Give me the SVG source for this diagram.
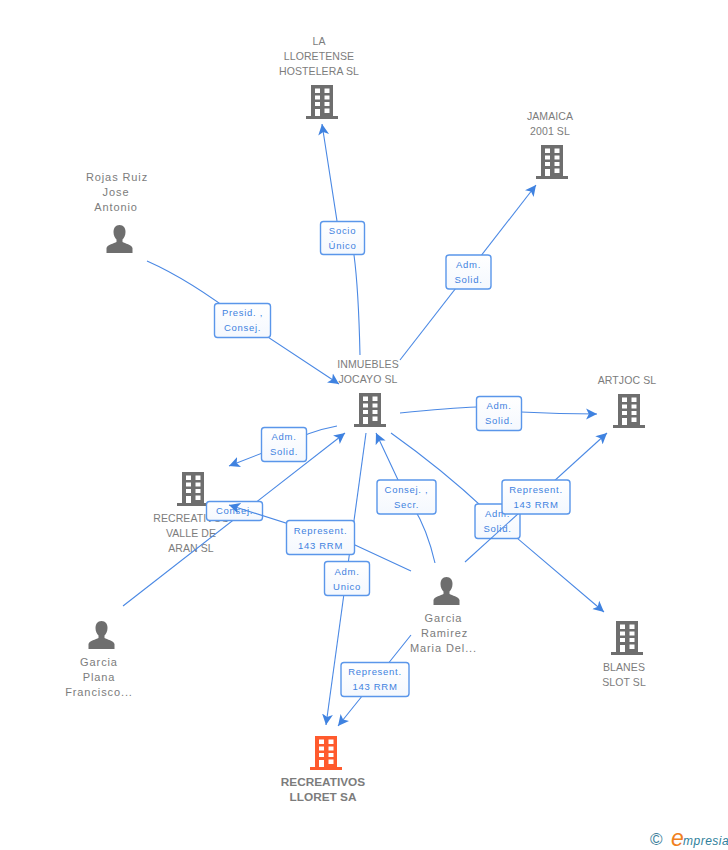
<svg xmlns="http://www.w3.org/2000/svg" width="728" height="850" viewBox="0 0 728 850">
<style>
text{font-family:"Liberation Sans",Arial,sans-serif}
.n{font-size:10.500px;fill:#7c7c7c;text-anchor:middle;letter-spacing:.1px}
.p{font-size:11px;letter-spacing:.9px}
.b{font-weight:bold;font-size:11.800px;letter-spacing:0}
.l{fill:none;stroke:#4a88e4;stroke-width:1.1}
.a{marker-end:url(#arr)}
.box{fill:url(#g);stroke:#5a96ea;stroke-width:1.4}
.t{font-size:9.500px;fill:#3f82e0;text-anchor:middle;letter-spacing:.7px}
</style>
<defs>
<marker id="arr" markerUnits="userSpaceOnUse" markerWidth="12" markerHeight="12" refX="10" refY="5" orient="auto" viewBox="0 0 11 10"><path d="M0,0L10,5L0,10L2.500,5Z" fill="#3f82e0"/></marker>
<linearGradient id="g" x1="0" y1="0" x2="0" y2="1"><stop offset="0" stop-color="#fff"/><stop offset="1" stop-color="#f4f8fe"/></linearGradient>
<symbol id="bld" width="32" height="34" viewBox="0 0 32 34" overflow="visible"><path fill-rule="evenodd" d="M5,0H27V31H32V34H0V31H5ZM9,3.500V8H14V3.500ZM18.500,3.500V8H23.500V3.500ZM9,10.500V14.500H14V10.500ZM18.500,10.500V14.500H23.500V10.500ZM9,17V21H14V17ZM18.500,17V21H23.500V17ZM9,24V31H14V24ZM18.500,23.500V28H23.500V23.500Z"/></symbol>
<symbol id="per" width="27" height="28" viewBox="0 0 27 28" overflow="visible"><path d="M13.500,0C9.500,0 7.500,3 7.500,7C7.500,10.500 9,13 10.500,14.500V17C8,18.500 1.500,19.500 0.500,23V28H26.500V23C25.500,19.500 19,18.500 16.500,17V14.500C18,13 19.500,10.500 19.500,7C19.500,3 17.500,0 13.500,0Z"/></symbol>
</defs>
<rect width="728" height="850" fill="#fff"/>
<g id="node-la-lloretense"><use href="#bld" x="306" y="85" fill="#6e6e6e"/><text class="n" x="319" y="45">LA</text><text class="n" x="319" y="60">LLORETENSE</text><text class="n" x="319" y="75">HOSTELERA SL</text></g>
<g id="node-jamaica"><use href="#bld" x="536" y="145" fill="#6e6e6e"/><text class="n" x="550" y="120">JAMAICA</text><text class="n" x="550" y="135">2001 SL</text></g>
<g id="node-rojas"><use href="#per" x="106" y="225" fill="#6e6e6e"/><text class="n p" x="117" y="181">Rojas Ruiz</text><text class="n p" x="116" y="196">Jose</text><text class="n p" x="116" y="211">Antonio</text></g>
<g id="node-inmuebles"><use href="#bld" x="354" y="393" fill="#6e6e6e"/><text class="n" x="368" y="368">INMUEBLES</text><text class="n" x="368" y="383">JOCAYO SL</text></g>
<g id="node-artjoc"><use href="#bld" x="613" y="394" fill="#6e6e6e"/><text class="n" x="627" y="384">ARTJOC SL</text></g>
<g id="node-valle"><use href="#bld" x="177" y="472" fill="#6e6e6e"/><text class="n" x="191" y="522">RECREATIVOS</text><text class="n" x="191" y="537">VALLE DE</text><text class="n" x="191" y="552">ARAN SL</text></g>
<g id="node-garcia-ramirez"><use href="#per" x="433" y="577" fill="#6e6e6e"/><text class="n p" x="443.500" y="622">Garcia</text><text class="n p" x="444.500" y="637">Ramirez</text><text class="n p" x="443.500" y="652">Maria Del...</text></g>
<g id="node-garcia-plana"><use href="#per" x="88" y="621" fill="#6e6e6e"/><text class="n p" x="99" y="666">Garcia</text><text class="n p" x="99" y="681">Plana</text><text class="n p" x="99" y="696">Francisco...</text></g>
<g id="node-blanes"><use href="#bld" x="611" y="621" fill="#6e6e6e"/><text class="n" x="624" y="671">BLANES</text><text class="n" x="624" y="686">SLOT SL</text></g>
<g id="node-lloret"><use href="#bld" x="310" y="736" fill="#ff5a2d"/><text class="n b" x="323" y="786">RECREATIVOS</text><text class="n b" x="323" y="801">LLORET SA</text></g>
<g id="connectors">
<path class="l a" d="M360,355C359,310 358,285 354,255L337,221L322,124"/>
<rect class="box" x="320.500" y="221.500" width="44" height="33" rx="3"/><text class="t" x="342.500" y="234">Socio</text><text class="t" x="342.500" y="249">Único</text>
<path class="l a" d="M400,360L536,185"/>
<rect class="box" x="446" y="255" width="45" height="34" rx="3"/><text class="t" x="468.500" y="268">Adm.</text><text class="t" x="468.500" y="283">Solid.</text>
<path class="l a" d="M147,261Q190,280 242,320L339,384"/>
<rect class="box" x="214.500" y="303.500" width="56" height="34" rx="3"/><text class="t" x="242.500" y="316">Presid. ,</text><text class="t" x="242.500" y="331">Consej.</text>
<path class="l a" d="M400,413Q450,408 477,407M521,412Q560,414 597,414"/>
<rect class="box" x="476.500" y="396.500" width="45" height="34" rx="3"/><text class="t" x="499" y="409">Adm.</text><text class="t" x="499" y="424">Solid.</text>
<path class="l a" d="M337,426Q310,431 283,445L229,466"/>
<rect class="box" x="261.500" y="427.500" width="45" height="34" rx="3"/><text class="t" x="284" y="440">Adm.</text><text class="t" x="284" y="455">Solid.</text>
<path class="l a" d="M366,433L346,579L326,725"/>
<rect class="box" x="324.500" y="561.500" width="45" height="34" rx="3"/><text class="t" x="347" y="575">Adm.</text><text class="t" x="347" y="590">Unico</text>
<path class="l a" d="M435,563Q425,520 406,497L376,433"/>
<rect class="box" x="377" y="480" width="59" height="34" rx="3"/><text class="t" x="406.500" y="493">Consej. ,</text><text class="t" x="406.500" y="508">Secr.</text>
<path class="l a" d="M391,433Q450,475 497,521L604,612"/>
<rect class="box" x="475" y="504" width="45" height="34.500" rx="3"/><text class="t" x="497.500" y="517">Adm.</text><text class="t" x="497.500" y="532">Solid.</text>
<path class="l a" d="M465,562L607,433"/>
<rect class="box" x="502" y="480" width="68" height="34" rx="3"/><text class="t" x="536" y="493">Represent.</text><text class="t" x="536" y="508">143 RRM</text>
<path class="l a" d="M123,606L345,433"/>
<rect class="box" x="206.500" y="501.500" width="56" height="19" rx="3"/><text class="t" x="234.500" y="514">Consej.</text>
<path class="l a" d="M411,571L355,545L229,505"/>
<rect class="box" x="286.500" y="520.500" width="68" height="34" rx="3"/><text class="t" x="320.500" y="534">Represent.</text><text class="t" x="320.500" y="549">143 RRM</text>
<path class="l a" d="M411,635L375,680L338,726"/>
<rect class="box" x="341" y="662.500" width="68" height="34" rx="3"/><text class="t" x="375" y="675">Represent.</text><text class="t" x="375" y="690">143 RRM</text>
</g>
<g id="logo"><text x="650" y="845" font-size="17" fill="#3e7f9c">©</text><text x="671" y="846" font-size="23" font-style="italic" fill="#f08020">e</text><text x="683" y="845" font-size="12" font-style="italic" fill="#2f7f9c" letter-spacing=".5">mpresia</text></g>
</svg>
